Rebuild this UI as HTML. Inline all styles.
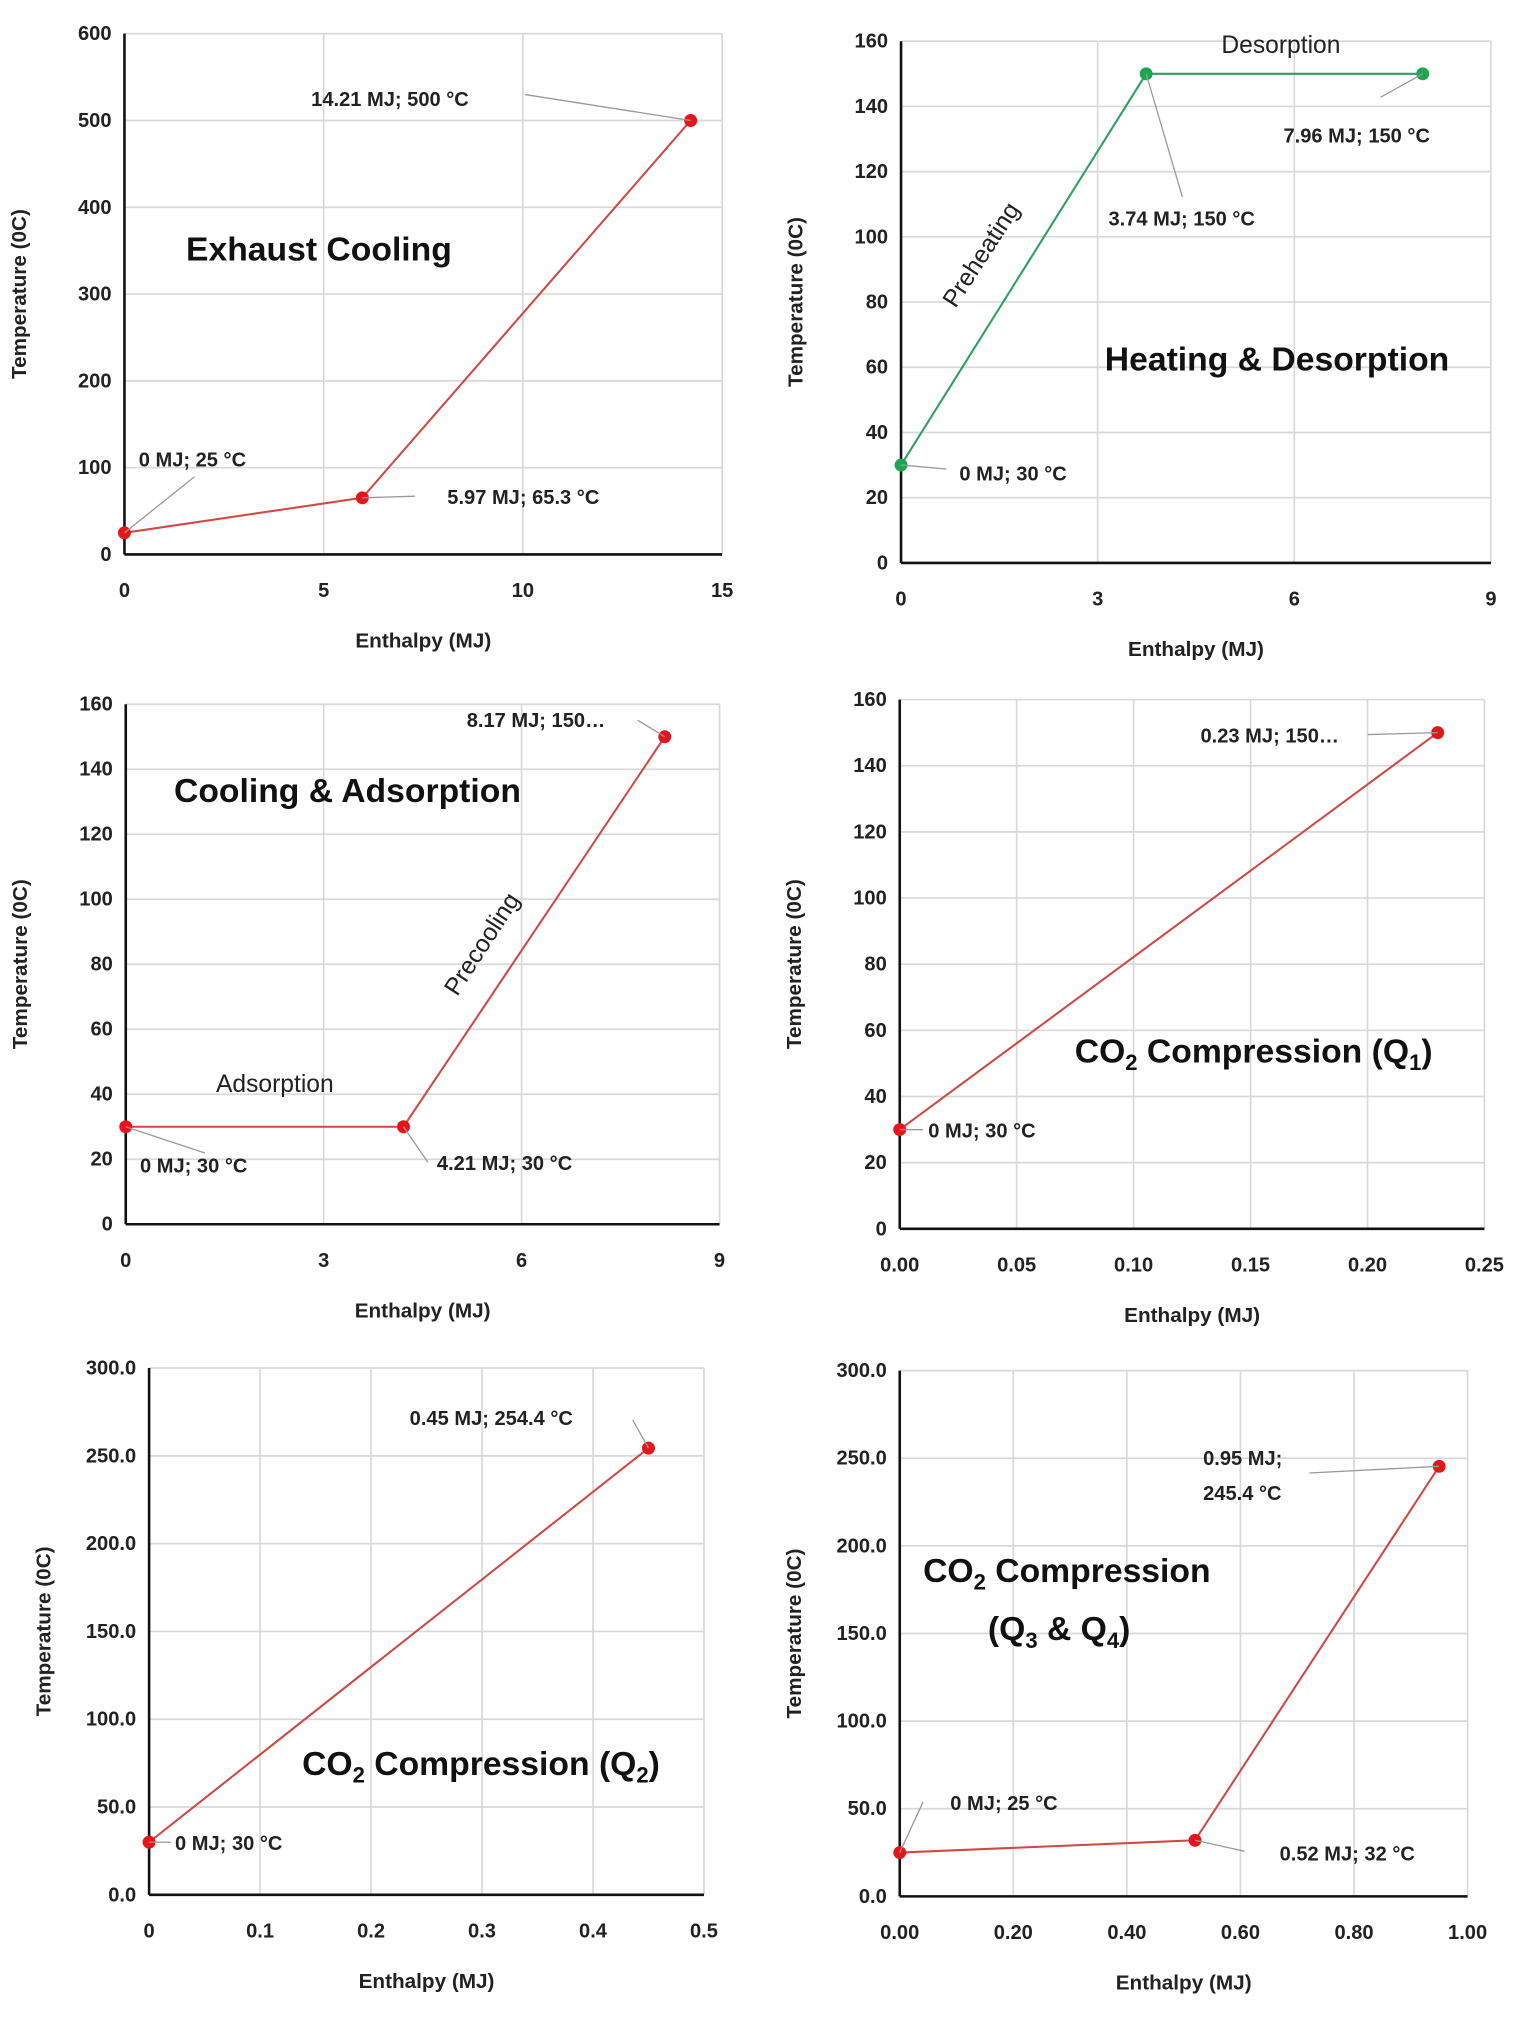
<!DOCTYPE html>
<html><head><meta charset="utf-8">
<style>
html,body{margin:0;padding:0;background:#fff;}
svg{display:block;}
text{font-family:"Liberation Sans",sans-serif;fill:#111;}
.tk{font-size:15.5px;font-weight:bold;fill:#222;}
.an{font-size:15.5px;font-weight:bold;fill:#222;}
.ax{font-size:16px;font-weight:bold;fill:#222;}
.tt{font-size:26px;font-weight:bold;fill:#111;}
.lb{font-size:19px;fill:#222;}
</style></head>
<body>
<svg id="fig" width="1535" height="2021" viewBox="0 0 1184 1560" preserveAspectRatio="none" xmlns="http://www.w3.org/2000/svg"></svg>
<script>
// ---- data ----
const c1X=[0,5.97,14.21], c1Y=[25,65.3,500];
const c1XTicks=[0,5,10,15], c1YTicks=[0,100,200,300,400,500,600];
const c1Labels=["0 MJ; 25 °C","5.97 MJ; 65.3 °C","14.21 MJ; 500 °C"];
const c2X=[0,3.74,7.96], c2Y=[30,150,150];
const c2XTicks=[0,3,6,9], c2YTicks=[0,20,40,60,80,100,120,140,160];
const c2Labels=["0 MJ; 30 °C","3.74 MJ; 150 °C","7.96 MJ; 150 °C"];
const c3X=[0,4.21,8.17], c3Y=[30,30,150];
const c3XTicks=[0,3,6,9], c3YTicks=[0,20,40,60,80,100,120,140,160];
const c3Labels=["0 MJ; 30 °C","4.21 MJ; 30 °C","8.17 MJ; 150…"];
const c4X=[0,0.23], c4Y=[30,150];
const c4XTicks=[0,0.05,0.10,0.15,0.20,0.25], c4YTicks=[0,20,40,60,80,100,120,140,160];
const c4TickText=["0.00","0.05","0.10","0.15","0.20","0.25"];
const c4Labels=["0 MJ; 30 °C","0.23 MJ; 150…"];
const c5X=[0,0.45], c5Y=[30,254.4];
const c5XTicks=[0,0.1,0.2,0.3,0.4,0.5], c5YTicks=[0,50,100,150,200,250,300];
const c5TickText=["0","0.1","0.2","0.3","0.4","0.5"];
const c5Labels=["0 MJ; 30 °C","0.45 MJ; 254.4 °C"];
const c6X=[0,0.52,0.95], c6Y=[25,32,245.4];
const c6XTicks=[0,0.2,0.4,0.6,0.8,1.0], c6YTicks=[0,50,100,150,200,250,300];
const c6TickText=["0.00","0.20","0.40","0.60","0.80","1.00"];
const c6Labels=["0 MJ; 25 °C","0.52 MJ; 32 °C","0.95 MJ;"];

const NS="http://www.w3.org/2000/svg";
const svg=document.getElementById('fig');
function mk(tag,attrs,parent){const e=document.createElementNS(NS,tag);for(const k in attrs)e.setAttribute(k,attrs[k]);(parent||svg).appendChild(e);return e;}
function txt(s,attrs,parent){const e=mk('text',attrs,parent);e.textContent=s;return e;}

function chart(o){
  const g=mk('g',{});
  
  
  const sx=v=>o.x0+(v-o.xmin)/(o.xmax-o.xmin)*(o.x1-o.x0);
  const sy=v=>o.y0-(v-o.ymin)/(o.ymax-o.ymin)*(o.y0-o.y1);
  o.sx=sx;o.sy=sy;
  o.yt.forEach((v,i)=>{
    if(i>0){const l=mk('line',{x1:o.x0,x2:o.x1,y1:sy(v),y2:sy(v),stroke:'#d9d9d9','stroke-width':1.3},g);
    }
    const t=txt(o.yf?o.yf(v):String(v),{x:o.x0-10,y:sy(v)+5,'text-anchor':'end',class:'tk'},g);
    
  });
  o.xt.forEach((v,i)=>{
    if(i>0){const l=mk('line',{x1:sx(v),x2:sx(v),y1:o.y0,y2:o.y1,stroke:'#d9d9d9','stroke-width':1.3},g);
    }
    const t=txt(o.xtt?o.xtt[i]:String(v),{x:sx(v),y:o.y0+33,'text-anchor':'middle',class:'tk'},g);
    
  });
  const ya=mk('line',{x1:o.x0,x2:o.x0,y1:o.y0,y2:o.y1,stroke:'#111','stroke-width':2},g);
  
  const xa=mk('line',{x1:o.x0,x2:o.x1,y1:o.y0,y2:o.y0,stroke:'#111','stroke-width':2},g);
  
  const cx=o.x0-76, cy=(o.y0+o.y1)/2;
  const yt=txt('Temperature (0C)',{x:cx,y:cy,'text-anchor':'middle',class:'ax',transform:`rotate(-90 ${cx} ${cy})`},g);
  
  const xtl=txt('Enthalpy  (MJ)',{x:(o.x0+o.x1)/2,y:o.y0+72,'text-anchor':'middle',class:'ax'},g);
  
  const pts=o.X.map((v,i)=>sx(v)+','+sy(o.Y[i])).join(' ');
  const pl=mk('polyline',{points:pts,fill:'none',stroke:o.line,'stroke-width':1.6},g);
  
  o.X.forEach((v,i)=>{
    const c=mk('circle',{cx:sx(v),cy:sy(o.Y[i]),r:5,fill:o.mark},g);
    
  });
  o.g=g;return o;
}
function ann(o,i,s,tx,ty,lx,ly,anchor){
  const px=o.sx(o.X[i]),py=o.sy(o.Y[i]);
  const l=mk('polyline',{points:`${px},${py} ${lx},${ly}`,fill:'none',stroke:'#999','stroke-width':1},o.g);
  
  const t=txt(s,{x:tx,y:ty,class:'an','text-anchor':anchor||'start'},o.g);
  
  return t;
}
function label(o,s,x,y,cls,rot){
  const t=txt(s,{x:x,y:y,class:cls,'text-anchor':'middle',transform:rot?`rotate(${rot} ${x} ${y})`:''},o.g);
  return t;
}
const RED='#cf4a45',REDM='#e8141c',GRN='#2e9e63',GRNM='#1fa54f';

// Chart 1
const A=chart({name:'exhaust-cooling-chart',X:c1X,Y:c1Y,xt:c1XTicks,yt:c1YTicks,xmin:0,xmax:15,ymin:0,ymax:600,x0:96,x1:557,y0:428,y1:26,line:RED,mark:REDM});
ann(A,2,c1Labels[2],240,82,405,73);
ann(A,0,c1Labels[0],107,360,150,368);
ann(A,1,c1Labels[1],345,389,320,383);
let t=label(A,'Exhaust Cooling',246,201,'tt');

// Chart 2
const B=chart({name:'heating-desorption-chart',X:c2X,Y:c2Y,xt:c2XTicks,yt:c2YTicks,xmin:0,xmax:9,ymin:0,ymax:160,x0:695,x1:1150,y0:434.5,y1:31.8,line:GRN,mark:GRNM});
ann(B,2,c2Labels[2],990,110,1065,75);
ann(B,1,c2Labels[1],855,174,912,152);
ann(B,0,c2Labels[0],740,371,730,362);
t=label(B,'Desorption',988,41,'lb');
t=label(B,'Preheating',762,200,'lb',-57);
t=label(B,'Heating & Desorption',985,286,'tt');

// Chart 3
const C=chart({name:'cooling-adsorption-chart',X:c3X,Y:c3Y,xt:c3XTicks,yt:c3YTicks,xmin:0,xmax:9,ymin:0,ymax:160,x0:97,x1:555,y0:945,y1:543.6,line:RED,mark:REDM});
ann(C,2,c3Labels[2],360,561,492,556);
ann(C,0,c3Labels[0],108,905,158,890);
ann(C,1,c3Labels[1],337,903,330,897);
t=label(C,'Adsorption',212,843,'lb');
t=label(C,'Precooling',377,732,'lb',-57);
t=label(C,'Cooling & Adsorption',268,619,'tt');

// Chart 4
const D=chart({name:'co2-compression-q1-chart',X:c4X,Y:c4Y,xt:c4XTicks,xtt:c4TickText,yt:c4YTicks,xmin:0,xmax:0.25,ymin:0,ymax:160,x0:694,x1:1145,y0:948.5,y1:540,line:RED,mark:REDM});
ann(D,1,c4Labels[1],926,573,1055,567);
ann(D,0,c4Labels[0],716,878,712,872);
t=txt('',{x:829,y:820,class:'tt'},D.g);t.innerHTML='CO<tspan dy="6" font-size="17">2</tspan><tspan dy="-6"> Compression (Q</tspan><tspan dy="6" font-size="17">1</tspan><tspan dy="-6">)</tspan>';


// Chart 5
const E=chart({name:'co2-compression-q2-chart',X:c5X,Y:c5Y,xt:c5XTicks,xtt:c5TickText,yt:c5YTicks,yf:v=>v.toFixed(1),xmin:0,xmax:0.5,ymin:0,ymax:300,x0:115,x1:543,y0:1462.6,y1:1056,line:RED,mark:REDM});
ann(E,1,c5Labels[1],316,1100,488,1096);
ann(E,0,c5Labels[0],135,1428,132,1422);
t=txt('',{x:233,y:1370,class:'tt'},E.g);t.innerHTML='CO<tspan dy="6" font-size="17">2</tspan><tspan dy="-6"> Compression (Q</tspan><tspan dy="6" font-size="17">2</tspan><tspan dy="-6">)</tspan>';


// Chart 6
const F=chart({name:'co2-compression-q3-q4-chart',X:c6X,Y:c6Y,xt:c6XTicks,xtt:c6TickText,yt:c6YTicks,yf:v=>v.toFixed(1),xmin:0,xmax:1.0,ymin:0,ymax:300,x0:694,x1:1132,y0:1463.8,y1:1058,line:RED,mark:REDM});
ann(F,2,c6Labels[2],928,1131,1010,1137);
t=txt('245.4 °C',{x:928,y:1158,class:'an'},F.g);
ann(F,0,c6Labels[0],733,1397,712,1391);
ann(F,1,c6Labels[1],987,1436,960,1429);
t=txt('',{x:712,y:1221,class:'tt'},F.g);t.innerHTML='CO<tspan dy="6" font-size="17">2</tspan><tspan dy="-6"> Compression</tspan>';

t=txt('',{x:762,y:1266,class:'tt'},F.g);t.innerHTML='(Q<tspan dy="6" font-size="17">3</tspan><tspan dy="-6"> &amp; Q</tspan><tspan dy="6" font-size="17">4</tspan><tspan dy="-6">)</tspan>';

</script>
</body></html>
